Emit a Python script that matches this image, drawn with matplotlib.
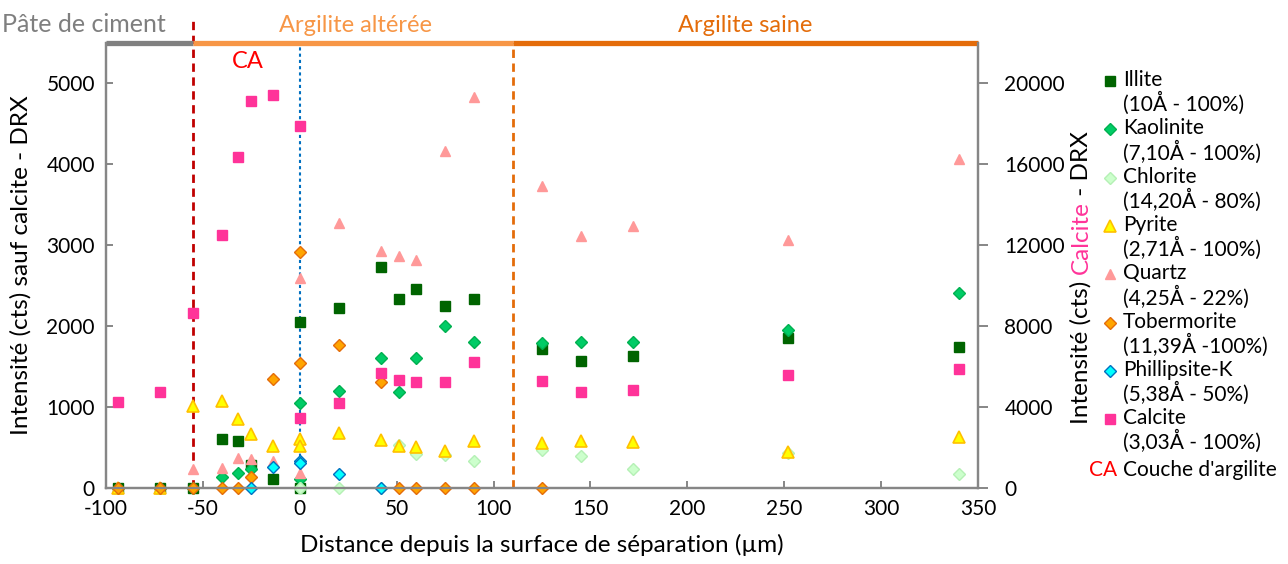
import matplotlib.pyplot as plt
from matplotlib.lines import Line2D

plt.rcParams['font.family'] = ['Lato', 'DejaVu Sans']
plt.rcParams['axes.unicode_minus'] = False

# distance (µm) of each measurement; two measurements at 0
distance = [-94, -72, -55, -40, -32, -25, -14, 0, 0, 20, 42, 51, 60, 75, 90,
            125, 145, 172, 252, 340]

illite = [0, 0, 0, 601, 580, 284, 107, 2045, 0, 2218, 2728, 2333, 2457, 2247,
          2333, 1712, 1564, 1626, 1848, 1737]
kaolinite = [0, 0, 0, 132, 181, 230, None, 1053, 107, 1198, 1601, 1189, 1601,
             2004, 1799, 1794, 1806, 1806, 1951, 2407]
chlorite = [None, None, None, None, None, None, None, 0, 0, 0, 0, 530, 420,
            407, 333, 469, 395, 235, 436, 173]
pyrite = [0, 0, 1016, 1074, 852, 663, 523, 601, 523, 675, 593, 518, 510, 457,
          584, 551, 576, 564, 449, 626]
quartz = [None, None, 230, 251, 374, 354, 333, 2588, 181, 3272, 2926, 2864,
          2815, 4160, 4827, 3728, 3111, 3235, 3062, 4062]
tobermorite = [0, 0, 0, 0, 0, 140, 1346, 2917, 1547, 1765, 1313, 0, 0, 0, 0,
               0, None, None, None, None]
phillipsite = [None, None, None, None, None, 0, 263, 333, 305, 173, 0, None,
               None, None, None, None, None, None, None, None]
calcite = [4232, 4725, 8625, 12480, 16330, 19100, 19390, 17900, 3440, 4181,
           5663, 5317, 5220, 5220, 6207, 5268, 4725, 4824, 5565, 5860]

legend_labels = ['Illite\n(10Å - 100%)', 'Kaolinite\n(7,10Å - 100%)',
                 'Chlorite\n(14,20Å - 80%)', 'Pyrite\n(2,71Å - 100%)',
                 'Quartz\n(4,25Å - 22%)', 'Tobermorite\n(11,39Å -100%)',
                 'Phillipsite-K\n(5,38Å - 50%)', 'Calcite\n(3,03Å - 100%)']

zones = [('Pâte de ciment', -100, -55, '#808080'),
         ('Argilite altérée', -55, 110, '#F79646'),
         ('Argilite saine', 110, 350, '#E46C0A')]


def pts(ys):
    xs = [x for x, y in zip(distance, ys) if y is not None]
    return xs, [y for y in ys if y is not None]


W, H = 1288, 564
fig = plt.figure(figsize=(12.88, 5.64), dpi=100)
ax = fig.add_axes([0.0823, 0.1348, 0.6770, 0.7898])
ax2 = ax.twinx()

styles = [
    (illite, dict(marker='s', ms=7.6, mfc='#006400', mec='#006400')),
    (kaolinite, dict(marker='D', ms=5.8, mfc='#00CC66', mec='#00B050')),
    (chlorite, dict(marker='D', ms=5.8, mfc='#CCFFCC', mec='#B5F0B5')),
    (pyrite, dict(marker='^', ms=8.0, mfc='#FFFF00', mec='#FFC000', mew=1.2)),
    (quartz, dict(marker='^', ms=7.0, mfc='#FF9999', mec='#FF9999')),
    (tobermorite, dict(marker='D', ms=5.8, mfc='#FFA500', mec='#E46C0A')),
    (phillipsite, dict(marker='D', ms=5.8, mfc='#00FFFF', mec='#0070C0')),
]
for ys, st in styles:
    xs, vs = pts(ys)
    ax.plot(xs, vs, ls='none', clip_on=False, zorder=3, **st)

calc_style = dict(marker='s', ms=6.6, mfc='#FF3399', mec='#FF3399')
xs, vs = pts(calcite)
ax2.plot(xs, vs, ls='none', clip_on=False, zorder=3, **calc_style)

ax.set_xlim(-100, 350)
ax.set_ylim(0, 5500)
ax2.set_ylim(0, 22000)
ax.set_xticks(range(-100, 351, 50))
ax.set_yticks(range(0, 5001, 1000))
ax2.set_yticks(range(0, 20001, 4000))

gray = '#868686'
for a in (ax, ax2):
    for s in a.spines.values():
        s.set_color(gray)
        s.set_linewidth(1.6)
    a.spines['top'].set_visible(False)
ax.tick_params(axis='both', direction='in', length=5, width=1.4, color=gray,
               labelsize=15, pad=8)
ax.tick_params(axis='x', pad=8)
ax2.tick_params(axis='y', direction='out', length=7, width=1.4, color=gray,
                labelsize=15, pad=12)

ax.set_xlabel('Distance depuis la surface de séparation (µm)', fontsize=17.5,
              labelpad=11)
ax.set_ylabel('Intensité (cts) sauf calcite - DRX', fontsize=17.5,
              labelpad=11)

# zone bands across the top
for name, x0, x1, col in zones:
    ax.plot([x0, x1], [5500, 5500], color=col, lw=3.8, solid_capstyle='butt',
            clip_on=False, zorder=4)
fig.text(2 / W, 1 - 25 / H, zones[0][0], color='#7F7F7F', fontsize=18,
         ha='left', va='center')
ax.text(29, 5710, zones[1][0], color='#F79646', fontsize=17,
        ha='center', va='center', clip_on=False)
ax.text(230, 5710, zones[2][0], color='#E46C0A', fontsize=17,
        ha='center', va='center', clip_on=False)

ax.plot([-55, -55], [0, 5800], color='#C00000', lw=2, ls=(0, (3, 2)),
        clip_on=False, zorder=2)
ax.plot([0, 0], [0, 5500], color='#0070C0', lw=1.5, ls=(0, (1.5, 1.5)),
        zorder=2)
ax.plot([110, 110], [0, 5500], color='#E46C0A', lw=2, ls=(0, (3, 2)),
        zorder=2)
ax.text(-27, 5260, 'CA', color='#FF0000', fontsize=17, ha='center',
        va='center')

# right y label with coloured word, built bottom to top
renderer = fig.canvas.get_renderer()
xlab = 1081 / W
ypos = 1 - 424 / H
for part, col in [('Intensité (cts) ', 'black'), ('Calcite', '#FF3399'),
                  (' - DRX', 'black')]:
    t = fig.text(xlab, ypos, part, rotation=90, color=col, fontsize=17.5,
                 ha='left', va='center', rotation_mode='anchor')
    bb = t.get_window_extent(renderer)
    ypos += bb.height / H

# legend drawn manually so markers align with the first line
all_styles = [st for _, st in styles] + [calc_style]
row0 = 81
for i, (lab, st) in enumerate(zip(legend_labels, all_styles)):
    yc = row0 + i * 48.3
    fig.add_artist(Line2D([1110 / W], [1 - yc / H], transform=fig.transFigure,
                          ls='none', **st))
    fig.text(1123 / W, 1 - (yc - 11) / H, lab, fontsize=15, va='top',
             ha='left', linespacing=1.1)
yc = row0 + 8 * 48.3 + 3
fig.text(1103 / W, 1 - yc / H, 'CA', color='#FF0000', fontsize=15,
         ha='center', va='center')
fig.text(1123 / W, 1 - yc / H, "Couche d'argilite", fontsize=15,
         ha='left', va='center')

fig.savefig('out.png', dpi=100)
